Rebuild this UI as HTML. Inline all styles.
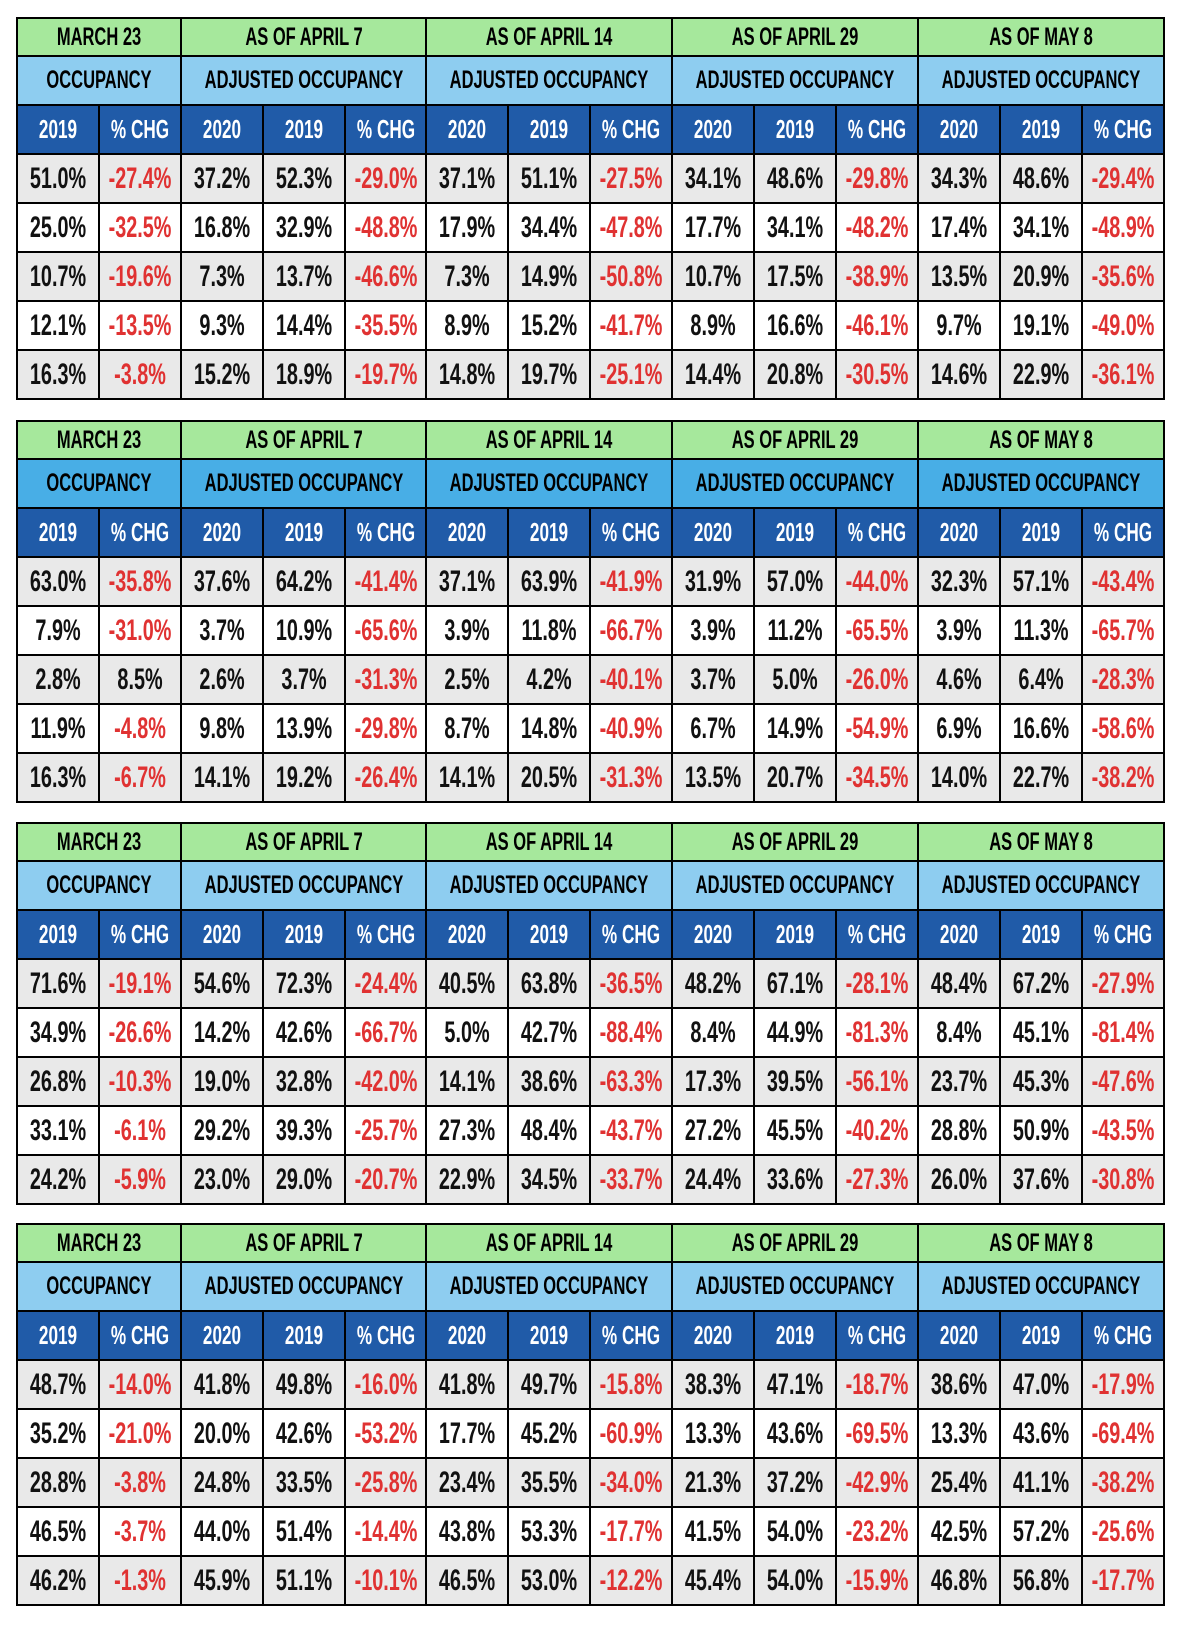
<!DOCTYPE html>
<html><head><meta charset="utf-8"><style>
body{margin:0;width:1178px;height:1626px;background:#fff;position:relative;overflow:hidden;font-family:"Liberation Sans",sans-serif;}
table{position:absolute;left:16px;width:1147px;border-collapse:collapse;table-layout:fixed;border:2px solid #000;}
td{border:2px solid #000;text-align:center;padding:0;overflow:hidden;white-space:nowrap;}
td span{display:block;width:400px;margin-left:calc(50% - 200px);text-align:center;transform:scaleX(.66);font-weight:bold;}
tr.h1 td{height:36px;background:#a6e89c;font-size:25px;}
tr.h2 td{height:47px;background:#8ecdf0;font-size:25px;}
tr.h2.d td{background:#48aee6;}
tr.h3 td{height:47px;background:#205ba8;color:#fff;font-size:26px;}
tr.g td,tr.w td{height:47px;font-size:30px;color:#111;}
tr.g td{background:#e9e9e9;}
tr.w td{background:#fff;}
td.r{color:#e03232 !important;}
</style></head><body>

<table style="top:17px">
<colgroup><col span="14" style="width:81.9px"></colgroup>
<tr class="h1"><td colspan="2"><span>MARCH 23</span></td><td colspan="3"><span>AS OF APRIL 7</span></td><td colspan="3"><span>AS OF APRIL 14</span></td><td colspan="3"><span>AS OF APRIL 29</span></td><td colspan="3"><span>AS OF MAY 8</span></td></tr>
<tr class="h2"><td colspan="2"><span>OCCUPANCY</span></td><td colspan="3"><span>ADJUSTED OCCUPANCY</span></td><td colspan="3"><span>ADJUSTED OCCUPANCY</span></td><td colspan="3"><span>ADJUSTED OCCUPANCY</span></td><td colspan="3"><span>ADJUSTED OCCUPANCY</span></td></tr>
<tr class="h3"><td><span>2019</span></td><td><span>% CHG</span></td><td><span>2020</span></td><td><span>2019</span></td><td><span>% CHG</span></td><td><span>2020</span></td><td><span>2019</span></td><td><span>% CHG</span></td><td><span>2020</span></td><td><span>2019</span></td><td><span>% CHG</span></td><td><span>2020</span></td><td><span>2019</span></td><td><span>% CHG</span></td></tr>
<tr class="g"><td><span>51.0%</span></td><td class="r"><span>-27.4%</span></td><td><span>37.2%</span></td><td><span>52.3%</span></td><td class="r"><span>-29.0%</span></td><td><span>37.1%</span></td><td><span>51.1%</span></td><td class="r"><span>-27.5%</span></td><td><span>34.1%</span></td><td><span>48.6%</span></td><td class="r"><span>-29.8%</span></td><td><span>34.3%</span></td><td><span>48.6%</span></td><td class="r"><span>-29.4%</span></td></tr>
<tr class="w"><td><span>25.0%</span></td><td class="r"><span>-32.5%</span></td><td><span>16.8%</span></td><td><span>32.9%</span></td><td class="r"><span>-48.8%</span></td><td><span>17.9%</span></td><td><span>34.4%</span></td><td class="r"><span>-47.8%</span></td><td><span>17.7%</span></td><td><span>34.1%</span></td><td class="r"><span>-48.2%</span></td><td><span>17.4%</span></td><td><span>34.1%</span></td><td class="r"><span>-48.9%</span></td></tr>
<tr class="g"><td><span>10.7%</span></td><td class="r"><span>-19.6%</span></td><td><span>7.3%</span></td><td><span>13.7%</span></td><td class="r"><span>-46.6%</span></td><td><span>7.3%</span></td><td><span>14.9%</span></td><td class="r"><span>-50.8%</span></td><td><span>10.7%</span></td><td><span>17.5%</span></td><td class="r"><span>-38.9%</span></td><td><span>13.5%</span></td><td><span>20.9%</span></td><td class="r"><span>-35.6%</span></td></tr>
<tr class="w"><td><span>12.1%</span></td><td class="r"><span>-13.5%</span></td><td><span>9.3%</span></td><td><span>14.4%</span></td><td class="r"><span>-35.5%</span></td><td><span>8.9%</span></td><td><span>15.2%</span></td><td class="r"><span>-41.7%</span></td><td><span>8.9%</span></td><td><span>16.6%</span></td><td class="r"><span>-46.1%</span></td><td><span>9.7%</span></td><td><span>19.1%</span></td><td class="r"><span>-49.0%</span></td></tr>
<tr class="g"><td><span>16.3%</span></td><td class="r"><span>-3.8%</span></td><td><span>15.2%</span></td><td><span>18.9%</span></td><td class="r"><span>-19.7%</span></td><td><span>14.8%</span></td><td><span>19.7%</span></td><td class="r"><span>-25.1%</span></td><td><span>14.4%</span></td><td><span>20.8%</span></td><td class="r"><span>-30.5%</span></td><td><span>14.6%</span></td><td><span>22.9%</span></td><td class="r"><span>-36.1%</span></td></tr>
</table>

<table style="top:420px">
<colgroup><col span="14" style="width:81.9px"></colgroup>
<tr class="h1"><td colspan="2"><span>MARCH 23</span></td><td colspan="3"><span>AS OF APRIL 7</span></td><td colspan="3"><span>AS OF APRIL 14</span></td><td colspan="3"><span>AS OF APRIL 29</span></td><td colspan="3"><span>AS OF MAY 8</span></td></tr>
<tr class="h2 d"><td colspan="2"><span>OCCUPANCY</span></td><td colspan="3"><span>ADJUSTED OCCUPANCY</span></td><td colspan="3"><span>ADJUSTED OCCUPANCY</span></td><td colspan="3"><span>ADJUSTED OCCUPANCY</span></td><td colspan="3"><span>ADJUSTED OCCUPANCY</span></td></tr>
<tr class="h3"><td><span>2019</span></td><td><span>% CHG</span></td><td><span>2020</span></td><td><span>2019</span></td><td><span>% CHG</span></td><td><span>2020</span></td><td><span>2019</span></td><td><span>% CHG</span></td><td><span>2020</span></td><td><span>2019</span></td><td><span>% CHG</span></td><td><span>2020</span></td><td><span>2019</span></td><td><span>% CHG</span></td></tr>
<tr class="g"><td><span>63.0%</span></td><td class="r"><span>-35.8%</span></td><td><span>37.6%</span></td><td><span>64.2%</span></td><td class="r"><span>-41.4%</span></td><td><span>37.1%</span></td><td><span>63.9%</span></td><td class="r"><span>-41.9%</span></td><td><span>31.9%</span></td><td><span>57.0%</span></td><td class="r"><span>-44.0%</span></td><td><span>32.3%</span></td><td><span>57.1%</span></td><td class="r"><span>-43.4%</span></td></tr>
<tr class="w"><td><span>7.9%</span></td><td class="r"><span>-31.0%</span></td><td><span>3.7%</span></td><td><span>10.9%</span></td><td class="r"><span>-65.6%</span></td><td><span>3.9%</span></td><td><span>11.8%</span></td><td class="r"><span>-66.7%</span></td><td><span>3.9%</span></td><td><span>11.2%</span></td><td class="r"><span>-65.5%</span></td><td><span>3.9%</span></td><td><span>11.3%</span></td><td class="r"><span>-65.7%</span></td></tr>
<tr class="g"><td><span>2.8%</span></td><td><span>8.5%</span></td><td><span>2.6%</span></td><td><span>3.7%</span></td><td class="r"><span>-31.3%</span></td><td><span>2.5%</span></td><td><span>4.2%</span></td><td class="r"><span>-40.1%</span></td><td><span>3.7%</span></td><td><span>5.0%</span></td><td class="r"><span>-26.0%</span></td><td><span>4.6%</span></td><td><span>6.4%</span></td><td class="r"><span>-28.3%</span></td></tr>
<tr class="w"><td><span>11.9%</span></td><td class="r"><span>-4.8%</span></td><td><span>9.8%</span></td><td><span>13.9%</span></td><td class="r"><span>-29.8%</span></td><td><span>8.7%</span></td><td><span>14.8%</span></td><td class="r"><span>-40.9%</span></td><td><span>6.7%</span></td><td><span>14.9%</span></td><td class="r"><span>-54.9%</span></td><td><span>6.9%</span></td><td><span>16.6%</span></td><td class="r"><span>-58.6%</span></td></tr>
<tr class="g"><td><span>16.3%</span></td><td class="r"><span>-6.7%</span></td><td><span>14.1%</span></td><td><span>19.2%</span></td><td class="r"><span>-26.4%</span></td><td><span>14.1%</span></td><td><span>20.5%</span></td><td class="r"><span>-31.3%</span></td><td><span>13.5%</span></td><td><span>20.7%</span></td><td class="r"><span>-34.5%</span></td><td><span>14.0%</span></td><td><span>22.7%</span></td><td class="r"><span>-38.2%</span></td></tr>
</table>

<table style="top:822px">
<colgroup><col span="14" style="width:81.9px"></colgroup>
<tr class="h1"><td colspan="2"><span>MARCH 23</span></td><td colspan="3"><span>AS OF APRIL 7</span></td><td colspan="3"><span>AS OF APRIL 14</span></td><td colspan="3"><span>AS OF APRIL 29</span></td><td colspan="3"><span>AS OF MAY 8</span></td></tr>
<tr class="h2"><td colspan="2"><span>OCCUPANCY</span></td><td colspan="3"><span>ADJUSTED OCCUPANCY</span></td><td colspan="3"><span>ADJUSTED OCCUPANCY</span></td><td colspan="3"><span>ADJUSTED OCCUPANCY</span></td><td colspan="3"><span>ADJUSTED OCCUPANCY</span></td></tr>
<tr class="h3"><td><span>2019</span></td><td><span>% CHG</span></td><td><span>2020</span></td><td><span>2019</span></td><td><span>% CHG</span></td><td><span>2020</span></td><td><span>2019</span></td><td><span>% CHG</span></td><td><span>2020</span></td><td><span>2019</span></td><td><span>% CHG</span></td><td><span>2020</span></td><td><span>2019</span></td><td><span>% CHG</span></td></tr>
<tr class="g"><td><span>71.6%</span></td><td class="r"><span>-19.1%</span></td><td><span>54.6%</span></td><td><span>72.3%</span></td><td class="r"><span>-24.4%</span></td><td><span>40.5%</span></td><td><span>63.8%</span></td><td class="r"><span>-36.5%</span></td><td><span>48.2%</span></td><td><span>67.1%</span></td><td class="r"><span>-28.1%</span></td><td><span>48.4%</span></td><td><span>67.2%</span></td><td class="r"><span>-27.9%</span></td></tr>
<tr class="w"><td><span>34.9%</span></td><td class="r"><span>-26.6%</span></td><td><span>14.2%</span></td><td><span>42.6%</span></td><td class="r"><span>-66.7%</span></td><td><span>5.0%</span></td><td><span>42.7%</span></td><td class="r"><span>-88.4%</span></td><td><span>8.4%</span></td><td><span>44.9%</span></td><td class="r"><span>-81.3%</span></td><td><span>8.4%</span></td><td><span>45.1%</span></td><td class="r"><span>-81.4%</span></td></tr>
<tr class="g"><td><span>26.8%</span></td><td class="r"><span>-10.3%</span></td><td><span>19.0%</span></td><td><span>32.8%</span></td><td class="r"><span>-42.0%</span></td><td><span>14.1%</span></td><td><span>38.6%</span></td><td class="r"><span>-63.3%</span></td><td><span>17.3%</span></td><td><span>39.5%</span></td><td class="r"><span>-56.1%</span></td><td><span>23.7%</span></td><td><span>45.3%</span></td><td class="r"><span>-47.6%</span></td></tr>
<tr class="w"><td><span>33.1%</span></td><td class="r"><span>-6.1%</span></td><td><span>29.2%</span></td><td><span>39.3%</span></td><td class="r"><span>-25.7%</span></td><td><span>27.3%</span></td><td><span>48.4%</span></td><td class="r"><span>-43.7%</span></td><td><span>27.2%</span></td><td><span>45.5%</span></td><td class="r"><span>-40.2%</span></td><td><span>28.8%</span></td><td><span>50.9%</span></td><td class="r"><span>-43.5%</span></td></tr>
<tr class="g"><td><span>24.2%</span></td><td class="r"><span>-5.9%</span></td><td><span>23.0%</span></td><td><span>29.0%</span></td><td class="r"><span>-20.7%</span></td><td><span>22.9%</span></td><td><span>34.5%</span></td><td class="r"><span>-33.7%</span></td><td><span>24.4%</span></td><td><span>33.6%</span></td><td class="r"><span>-27.3%</span></td><td><span>26.0%</span></td><td><span>37.6%</span></td><td class="r"><span>-30.8%</span></td></tr>
</table>

<table style="top:1223px">
<colgroup><col span="14" style="width:81.9px"></colgroup>
<tr class="h1"><td colspan="2"><span>MARCH 23</span></td><td colspan="3"><span>AS OF APRIL 7</span></td><td colspan="3"><span>AS OF APRIL 14</span></td><td colspan="3"><span>AS OF APRIL 29</span></td><td colspan="3"><span>AS OF MAY 8</span></td></tr>
<tr class="h2"><td colspan="2"><span>OCCUPANCY</span></td><td colspan="3"><span>ADJUSTED OCCUPANCY</span></td><td colspan="3"><span>ADJUSTED OCCUPANCY</span></td><td colspan="3"><span>ADJUSTED OCCUPANCY</span></td><td colspan="3"><span>ADJUSTED OCCUPANCY</span></td></tr>
<tr class="h3"><td><span>2019</span></td><td><span>% CHG</span></td><td><span>2020</span></td><td><span>2019</span></td><td><span>% CHG</span></td><td><span>2020</span></td><td><span>2019</span></td><td><span>% CHG</span></td><td><span>2020</span></td><td><span>2019</span></td><td><span>% CHG</span></td><td><span>2020</span></td><td><span>2019</span></td><td><span>% CHG</span></td></tr>
<tr class="g"><td><span>48.7%</span></td><td class="r"><span>-14.0%</span></td><td><span>41.8%</span></td><td><span>49.8%</span></td><td class="r"><span>-16.0%</span></td><td><span>41.8%</span></td><td><span>49.7%</span></td><td class="r"><span>-15.8%</span></td><td><span>38.3%</span></td><td><span>47.1%</span></td><td class="r"><span>-18.7%</span></td><td><span>38.6%</span></td><td><span>47.0%</span></td><td class="r"><span>-17.9%</span></td></tr>
<tr class="w"><td><span>35.2%</span></td><td class="r"><span>-21.0%</span></td><td><span>20.0%</span></td><td><span>42.6%</span></td><td class="r"><span>-53.2%</span></td><td><span>17.7%</span></td><td><span>45.2%</span></td><td class="r"><span>-60.9%</span></td><td><span>13.3%</span></td><td><span>43.6%</span></td><td class="r"><span>-69.5%</span></td><td><span>13.3%</span></td><td><span>43.6%</span></td><td class="r"><span>-69.4%</span></td></tr>
<tr class="g"><td><span>28.8%</span></td><td class="r"><span>-3.8%</span></td><td><span>24.8%</span></td><td><span>33.5%</span></td><td class="r"><span>-25.8%</span></td><td><span>23.4%</span></td><td><span>35.5%</span></td><td class="r"><span>-34.0%</span></td><td><span>21.3%</span></td><td><span>37.2%</span></td><td class="r"><span>-42.9%</span></td><td><span>25.4%</span></td><td><span>41.1%</span></td><td class="r"><span>-38.2%</span></td></tr>
<tr class="w"><td><span>46.5%</span></td><td class="r"><span>-3.7%</span></td><td><span>44.0%</span></td><td><span>51.4%</span></td><td class="r"><span>-14.4%</span></td><td><span>43.8%</span></td><td><span>53.3%</span></td><td class="r"><span>-17.7%</span></td><td><span>41.5%</span></td><td><span>54.0%</span></td><td class="r"><span>-23.2%</span></td><td><span>42.5%</span></td><td><span>57.2%</span></td><td class="r"><span>-25.6%</span></td></tr>
<tr class="g"><td><span>46.2%</span></td><td class="r"><span>-1.3%</span></td><td><span>45.9%</span></td><td><span>51.1%</span></td><td class="r"><span>-10.1%</span></td><td><span>46.5%</span></td><td><span>53.0%</span></td><td class="r"><span>-12.2%</span></td><td><span>45.4%</span></td><td><span>54.0%</span></td><td class="r"><span>-15.9%</span></td><td><span>46.8%</span></td><td><span>56.8%</span></td><td class="r"><span>-17.7%</span></td></tr>
</table>

</body></html>
